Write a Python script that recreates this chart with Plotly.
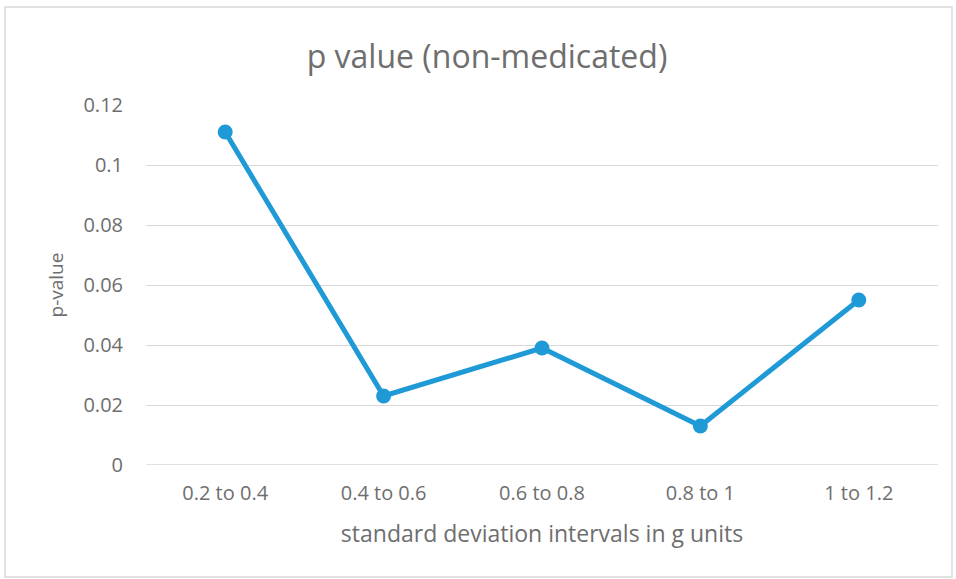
import plotly.graph_objects as go

categories = ["0.2 to 0.4", "0.4 to 0.6", "0.6 to 0.8", "0.8 to 1", "1 to 1.2"]
p_values = [0.111, 0.023, 0.039, 0.013, 0.055]
y_ticks = [0, 0.02, 0.04, 0.06, 0.08, 0.1, 0.12]
y_tick_labels = ["0", "0.02", "0.04", "0.06", "0.08", "0.1", "0.12"]

FONT = "'Open Sans', Calibri, Carlito, sans-serif"
GRAY = "#6E6E6E"
BLUE = "#1F9AD6"

W, H = 956, 579
L, R, T, B = 146, 18, 105, 114
pw, ph = W - L - R, H - T - B

fig = go.Figure()
fig.add_trace(go.Scatter(
    x=categories, y=p_values, mode="lines+markers",
    line=dict(color=BLUE, width=5),
    marker=dict(color=BLUE, size=15),
    showlegend=False, hoverinfo="x+y",
))

def px_x(p):
    return (p - L) / pw

def px_y(p):
    return (H - B - p) / ph

fig.update_layout(
    width=W, height=H,
    margin=dict(l=L, r=R, t=T, b=B),
    paper_bgcolor="white", plot_bgcolor="white",
    font=dict(family=FONT, color=GRAY, size=20),
    title=dict(text="p value (non-medicated)", x=487 / W, xref="container",
               xanchor="center", y=1 - 57 / H, yref="container", yanchor="middle",
               font=dict(size=32, color=GRAY, family=FONT)),
    xaxis=dict(type="category", range=[-0.5, 4.5], showgrid=False,
               showline=False, ticks="", zeroline=False,
               ticklabelstandoff=14,
               tickfont=dict(size=20, color=GRAY),
               title=dict(text="standard deviation intervals in g units",
                          font=dict(size=23, color=GRAY), standoff=20)),
    yaxis=dict(range=[0, 0.12], tickvals=y_ticks, ticktext=y_tick_labels,
               showgrid=True, gridcolor="#D9D9D9", gridwidth=1.3,
               zeroline=False, showline=False, ticks="",
               ticklabelstandoff=22,
               tickfont=dict(size=20, color=GRAY),
               title=dict(text="p-value", font=dict(size=19, color=GRAY), standoff=14)),
    shapes=[
        dict(type="rect", xref="paper", yref="paper",
             x0=px_x(5), x1=px_x(952), y0=px_y(577), y1=px_y(7),
             line=dict(color="#D9D9D9", width=1.5), fillcolor="rgba(0,0,0,0)",
             layer="below"),
        dict(type="line", xref="paper", yref="y", x0=0, x1=1, y0=0, y1=0,
             line=dict(color="#D9D9D9", width=1.5), layer="below"),
    ],
)

fig.write_html("out.html", config={"displayModeBar": False},
               post_script="document.body.style.margin='0px';document.body.style.overflow='hidden';")
